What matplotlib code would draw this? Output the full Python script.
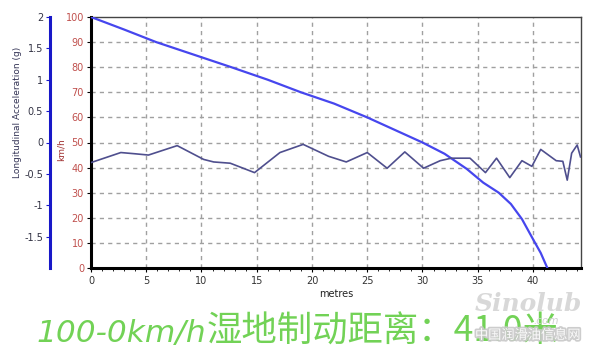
import matplotlib
matplotlib.use("Agg")
import matplotlib.pyplot as plt
import matplotlib.patheffects as pe
from matplotlib.ticker import MultipleLocator

# =========================
# DATA
# =========================
# speed trace (km/h) vs distance (m)
DIST = [0, 3, 5.9, 9.3, 12.7, 16, 19, 22, 25, 27.5, 30, 32, 34, 35.5, 36.9, 38, 39, 40, 40.7, 41.3]
SPEED = [100, 95, 90, 85, 80, 75, 70, 65.5, 60, 55, 50, 45.5, 39.5, 34, 30, 25.5, 19.5, 11.5, 6, 0]

# longitudinal acceleration (g) vs distance (m)
ACC_X = [0, 2.7, 4.0, 5.2, 7.8, 10.2, 11.1, 12.6, 14.8, 17.1, 19.2, 21.5, 23.1, 25.0, 26.8, 28.4,
         30.1, 31.6, 32.6, 34.3, 35.7, 36.7, 37.9, 39.0, 39.9, 40.7, 42.1, 42.7, 43.1, 43.5, 44.0, 44.3]
ACC_G = [-0.32, -0.16, -0.18, -0.20, -0.05, -0.27, -0.31, -0.33, -0.48, -0.16, -0.03, -0.22, -0.31,
         -0.16, -0.41, -0.15, -0.41, -0.29, -0.25, -0.25, -0.48, -0.25, -0.56, -0.29, -0.38, -0.11,
         -0.29, -0.30, -0.60, -0.17, -0.04, -0.23]

X_TICKS = [0, 5, 10, 15, 20, 25, 30, 35, 40]
SPEED_TICKS = [0, 10, 20, 30, 40, 50, 60, 70, 80, 90, 100]
ACC_TICKS = [-1.5, -1, -0.5, 0, 0.5, 1, 1.5, 2]
ACC_LABELS = ["-1.5", "-1", "-0.5", "0", "0.5", "1", "1.5", "2"]

TITLE_LATIN = "100-0km/h"
TITLE_CJK = "湿地制动距离：41.0米"

GREEN = "#72d256"
SPEED_COL = "#4646ee"
ACC_COL = "#4f4f8e"
RED_LBL = "#c0504d"
GRID_COL = "#a0a0a0"

fig = plt.figure(figsize=(6, 3.55), dpi=100)
ax = fig.add_axes([91 / 600, 1 - 268 / 355, (580.5 - 91) / 600, (268 - 17) / 355])

# grid (dashed, no line on the frame itself)
ax.set_xlim(0, 44.3)
ax.set_ylim(0, 100)
ax.set_xticks(X_TICKS)
ax.set_yticks(SPEED_TICKS)
ax.xaxis.set_minor_locator(MultipleLocator(1))
for x in X_TICKS[1:]:
    ax.axvline(x, color=GRID_COL, lw=1, ls=(0, (3, 3)), zorder=0)
for y in SPEED_TICKS[1:-1]:
    ax.axhline(y, color=GRID_COL, lw=1, ls=(0, (3, 3)), zorder=0)

ax.plot(DIST, SPEED, color=SPEED_COL, lw=1.6, zorder=3)

ax.tick_params(axis="x", direction="out", length=3, width=0.8, labelsize=7, labelcolor="#333333", pad=3)
ax.tick_params(axis="x", which="minor", direction="out", length=2, width=0.6)
ax.tick_params(axis="y", direction="out", length=3, width=0.8, labelsize=7, labelcolor=RED_LBL, pad=2)
ax.set_xlabel("metres", fontsize=7, color="#222222", labelpad=2)

for s in ["left", "bottom"]:
    ax.spines[s].set_linewidth(2.2)
    ax.spines[s].set_color("black")
for s in ["top", "right"]:
    ax.spines[s].set_linewidth(1.0)
    ax.spines[s].set_color("#444444")

# acceleration axis, offset to the left
ax2 = ax.twinx()
ax2.set_ylim(-2, 2)
ax2.set_yticks(ACC_TICKS)
ax2.set_yticklabels(ACC_LABELS)
ax2.yaxis.set_ticks_position("left")
ax2.yaxis.set_label_position("left")
ax2.spines["left"].set_position(("axes", -41 / 489.5))
ax2.spines["left"].set_visible(True)
ax2.spines["left"].set_color("#1818c8")
ax2.spines["left"].set_linewidth(2.2)
for s in ["right", "top", "bottom"]:
    ax2.spines[s].set_visible(False)
ax2.tick_params(axis="y", direction="out", length=3, width=0.8, labelsize=7,
                labelcolor="#333344", color="#1818c8", pad=2)
ax2.plot(ACC_X, ACC_G, color=ACC_COL, lw=1.2, zorder=2)

fig.text(18 / 600, 1 - 112 / 355, "Longitudinal Acceleration (g)", rotation=90,
         ha="center", va="center", fontsize=6.5, color="#333355")
fig.text(61 / 600, 1 - 150 / 355, "km/h", rotation=90, ha="center", va="center",
         fontsize=6.5, color="#a03030")

# big green caption
t1 = fig.text(36 / 600, 1 - 342 / 355, TITLE_LATIN, fontsize=22.5, style="italic",
              family="DejaVu Sans", color=GREEN, va="baseline", ha="left")
fig.canvas.draw()
bb = t1.get_window_extent(renderer=fig.canvas.get_renderer())
fig.text(bb.x1 / 600 + 0.002, 1 - 342 / 355, TITLE_CJK, fontsize=25.5, weight="medium",
         family=["Noto Sans CJK SC", "DejaVu Sans"], color=GREEN, va="baseline", ha="left")

# watermark (sits over the end of the caption, as in the source image)
fig.text(0.88, 0.145, "Sinolub", fontsize=18, style="italic", weight="bold",
         family="DejaVu Serif", color="#d4d4d4", ha="center", va="center", alpha=0.9)
fig.text(0.91, 0.095, ".com", fontsize=7.5, style="italic", color="#d0d0d0",
         ha="center", va="center")
fig.text(0.88, 0.055, "中国润滑油信息网", fontsize=9.5, family=["Noto Sans CJK SC", "DejaVu Sans"],
         color="white", ha="center", va="center", alpha=0.9,
         path_effects=[pe.withStroke(linewidth=2.5, foreground="#c8c8c8")])

fig.savefig("out.png", dpi=100)
